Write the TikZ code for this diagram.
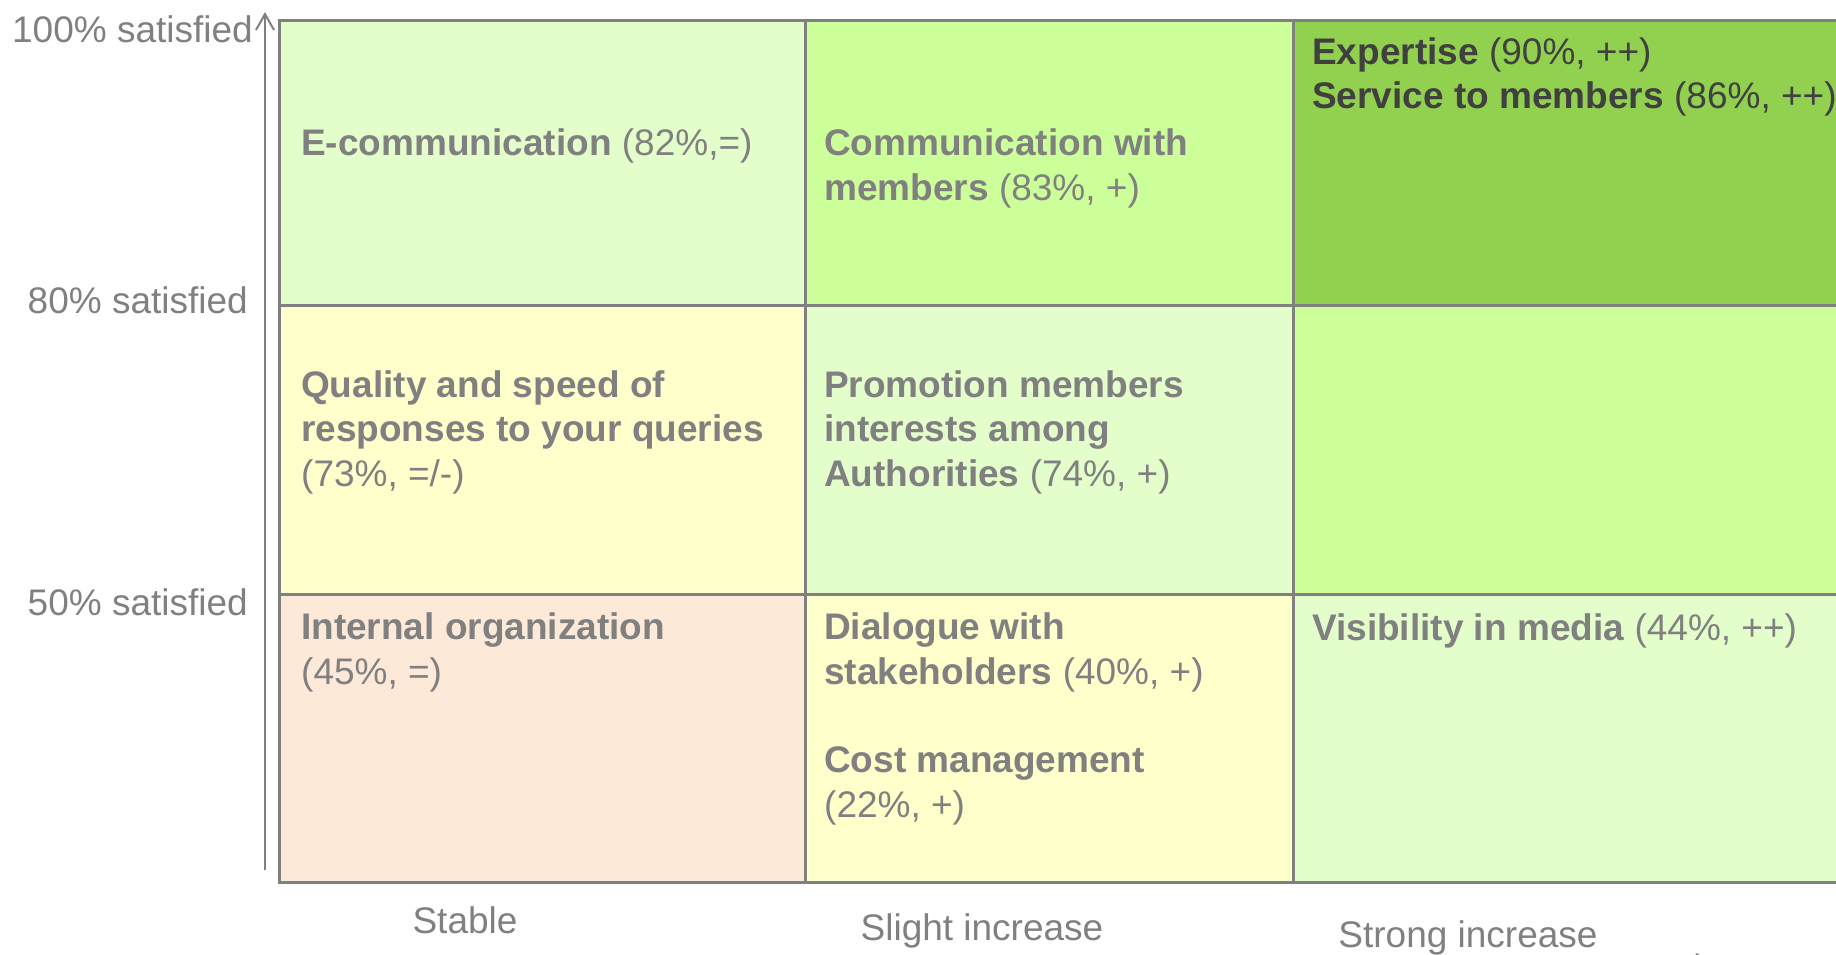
\documentclass[tikz,border=0pt]{standalone}
\usepackage{fontspec}
\setmainfont{Liberation Sans}
\usetikzlibrary{positioning, arrows.meta}

\definecolor{gridgray}{HTML}{808080}
\definecolor{txtdark}{HTML}{404040}
\definecolor{palegreen}{HTML}{E3FDCB}
\definecolor{limegreen}{HTML}{CCFF99}
\definecolor{deepgreen}{HTML}{92D050}
\definecolor{paleyellow}{HTML}{FFFFCC}
\definecolor{palepeach}{HTML}{FCE9D8}

\begin{document}
\begin{tikzpicture}[x=1pt, y=-1pt,
    cell/.style={draw=gridgray, line width=3pt},
    txt/.style={anchor=base west, align=left, inner sep=0pt, text=gridgray, font=\fontsize{37}{44.5}\selectfont},
    axlbl/.style={inner sep=0pt, text=gridgray, font=\fontsize{37}{44.5}\selectfont},
    axis/.style={draw=gridgray, line width=2pt, -{Straight Barb[length=16pt, width=18pt]}}]
  \useasboundingbox (0,0) rectangle (1836,955);
  \clip (0,0) rectangle (1836,955);
  % the nine cells
  \filldraw[cell, fill=palegreen]  (279,21)  rectangle (805,305);
  \filldraw[cell, fill=limegreen]  (805,21)  rectangle (1293,305);
  \filldraw[cell, fill=deepgreen]  (1293,21) rectangle (1900,305);
  \filldraw[cell, fill=paleyellow] (279,305) rectangle (805,594);
  \filldraw[cell, fill=palegreen]  (805,305) rectangle (1293,594);
  \filldraw[cell, fill=limegreen]  (1293,305) rectangle (1900,594);
  \filldraw[cell, fill=palepeach]  (279,594) rectangle (805,882);
  \filldraw[cell, fill=paleyellow] (805,594) rectangle (1293,882);
  \filldraw[cell, fill=palegreen]  (1293,594) rectangle (1900,882);
  % axes
  \coordinate (ybot) at (265,870);
  \coordinate (ytop) at (265,12);
  \draw[axis] (ybot) -- (ytop);
  \coordinate (xleft) at (279,963);
  \coordinate (xright) at (1714,963);
  \draw[axis] (xleft) -- (xright);
  \node (sat100) [axlbl, anchor=base east] at (253,43) {100\% satisfied};
  \node (sat80) [axlbl, anchor=base east] at (248,313) {80\% satisfied};
  \node (sat50) [axlbl, anchor=base east] at (248,615) {50\% satisfied};
  \node (stable) [axlbl, anchor=base] at (465,933) {Stable};
  \node (slight) [axlbl, anchor=base] at (982,940) {Slight increase};
  \node (strong) [axlbl, anchor=base] at (1468,947) {Strong increase};
  % cell texts (base = last line)
  \node (ecomm) [txt] at (301,156) {\textbf{E-communication} (82\%,=)};
  \node (commem) [txt] at (824,200) {\textbf{Communication with}\\\textbf{members} (83\%, +)};
  \node (expert) [txt, text=txtdark] at (1312,109) {\textbf{Expertise} (90\%, ++)\\\textbf{Service to members} (86\%, ++)};
  \node (quality) [txt] at (301,486) {\textbf{Quality and speed of}\\\textbf{responses to your queries}\\(73\%, =/-)};
  \node (promo) [txt] at (824,486) {\textbf{Promotion members}\\\textbf{interests among}\\\textbf{Authorities} (74\%, +)};
  \node (internal) [txt] at (301,684) {\textbf{Internal organization}\\(45\%, =)};
  \node (dialogue) [txt] at (824,684) {\textbf{Dialogue with}\\\textbf{stakeholders} (40\%, +)};
  \node (cost) [txt] at (824,817) {\textbf{Cost management}\\(22\%, +)};
  \node (visib) [txt] at (1312,640) {\textbf{Visibility in media} (44\%, ++)};
\end{tikzpicture}
\end{document}
